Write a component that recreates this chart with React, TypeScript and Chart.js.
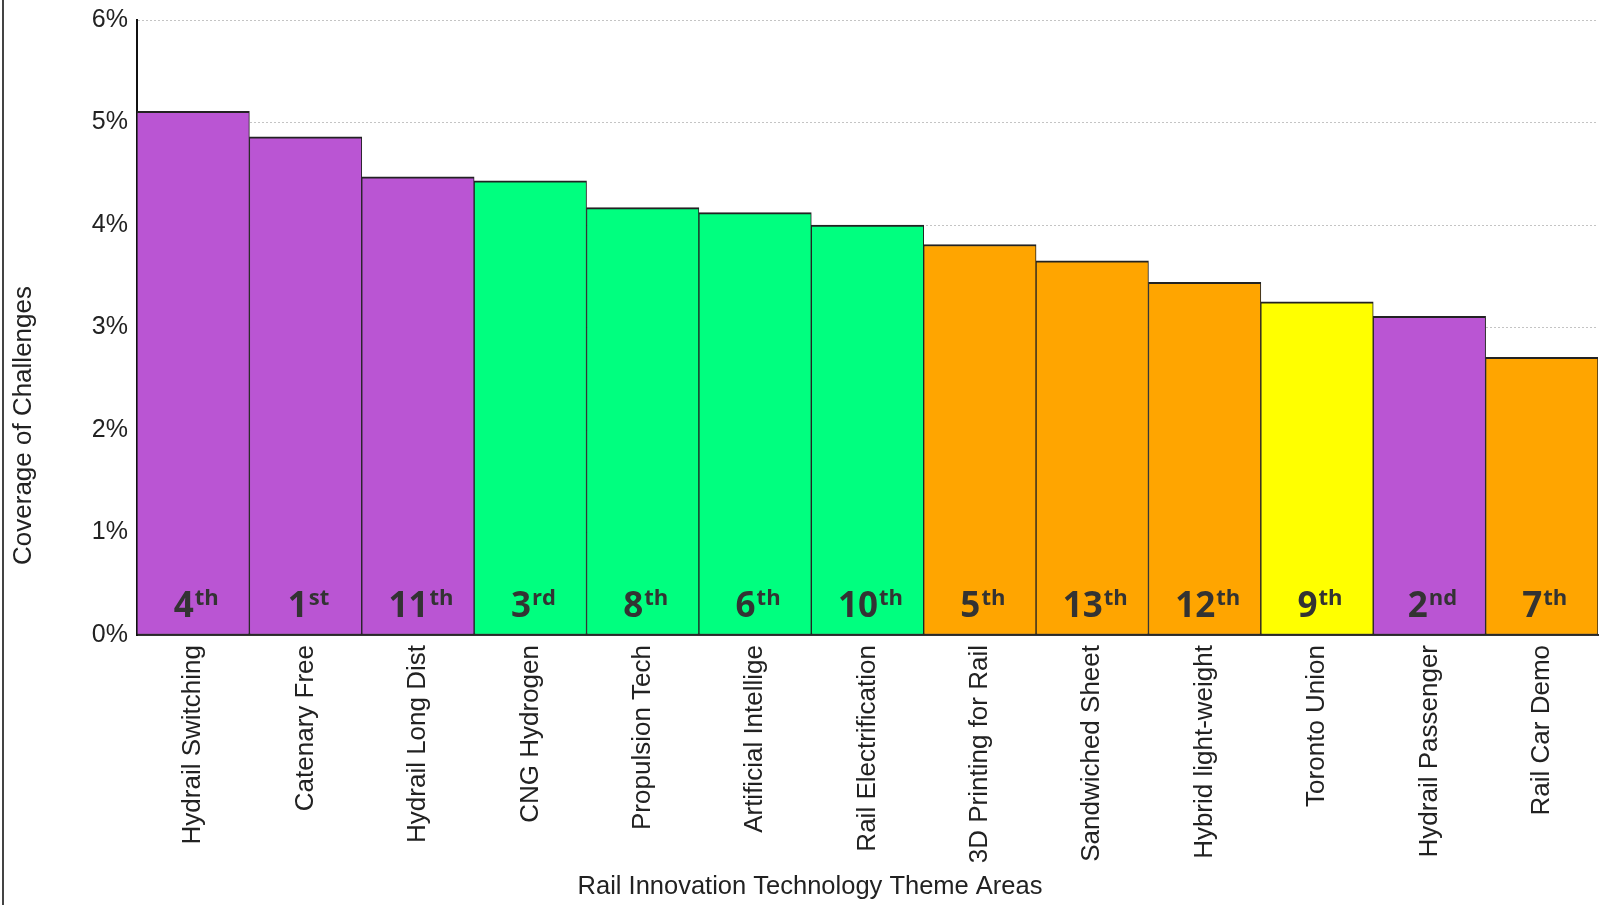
import React, { useEffect, useRef } from "react";
import { Chart, registerables } from "chart.js";

Chart.register(...registerables);

const categories = [
  "Hydrail Switching",
  "Catenary Free",
  "Hydrail Long Dist",
  "CNG Hydrogen",
  "Propulsion Tech",
  "Artificial Intellige",
  "Rail Electrification",
  "3D Printing for Rail",
  "Sandwiched Sheet",
  "Hybrid light-weight",
  "Toronto Union",
  "Hydrail Passenger",
  "Rail Car Demo",
];

const coverage = [5.11, 4.86, 4.47, 4.43, 4.17, 4.12, 4.0, 3.81, 3.65, 3.44, 3.25, 3.11, 2.71];

const rankNumbers = ["4", "1", "11", "3", "8", "6", "10", "5", "13", "12", "9", "2", "7"];
const rankSuffixes = ["th", "st", "th", "rd", "th", "th", "th", "th", "th", "th", "th", "nd", "th"];

const PURPLE = "#BA55D3";
const GREEN = "#00FF7F";
const ORANGE = "#FFA500";
const YELLOW = "#FFFF00";
const barColors = [
  PURPLE, PURPLE, PURPLE,
  GREEN, GREEN, GREEN, GREEN,
  ORANGE, ORANGE, ORANGE,
  YELLOW,
  PURPLE,
  ORANGE,
];

const yMin = 0;
const yMax = 6;
const yStep = 1;

const xTitle = "Rail Innovation Technology Theme Areas";
const yTitle = "Coverage of Challenges";

const TEXT = "#222";
const SANS = "'Liberation Sans', Arial, sans-serif";

const rankPlugin = {
  id: "rankLabels",
  afterDatasetsDraw(chart: any) {
    const ctx = chart.ctx;
    const meta = chart.getDatasetMeta(0);
    const base = chart.scales.y.getPixelForValue(0);
    ctx.save();
    ctx.fillStyle = "#333";
    ctx.textBaseline = "alphabetic";
    ctx.textAlign = "left";
    meta.data.forEach((el: any, i: number) => {
      const bigFont = "bold 35px 'Open Sans', sans-serif";
      const smallFont = "bold 22px 'Open Sans', sans-serif";
      ctx.font = bigFont;
      const nw = ctx.measureText(rankNumbers[i]).width;
      ctx.font = smallFont;
      const sw = ctx.measureText(rankSuffixes[i]).width;
      const start = el.x - (nw + sw + 1) / 2 + 3;
      ctx.font = bigFont;
      ctx.fillText(rankNumbers[i], start, base - 18);
      ctx.font = smallFont;
      ctx.fillText(rankSuffixes[i], start + nw + 1, base - 30);
    });
    ctx.restore();
  },
};

const titlePlugin = {
  id: "axisTitles",
  afterDraw(chart: any) {
    const ctx = chart.ctx;
    ctx.save();
    ctx.fillStyle = TEXT;
    ctx.font = `25.5px ${SANS}`;
    ctx.textAlign = "center";
    ctx.textBaseline = "alphabetic";
    ctx.fillText(xTitle, chart.width / 2 + 9, chart.height - 11);
    ctx.translate(24, chart.height / 2 - 27);
    ctx.rotate(-Math.PI / 2);
    ctx.font = `26px ${SANS}`;
    ctx.textBaseline = "middle";
    ctx.fillText(yTitle, 0, 0);
    ctx.restore();
  },
};

export default function App() {
  const ref = useRef<HTMLCanvasElement>(null);

  useEffect(() => {
    if (!ref.current) return;
    const chart = new Chart(ref.current, {
      type: "bar",
      data: {
        labels: categories,
        datasets: [
          {
            data: coverage,
            backgroundColor: barColors,
            borderColor: "#222",
            borderWidth: { top: 2, left: 1, right: 1, bottom: 1 },
            borderSkipped: false,
            barPercentage: 1,
            categoryPercentage: 1,
          },
        ],
      },
      options: {
        animation: false,
        responsive: false,
        layout: { padding: { left: 0, right: 4, top: 20, bottom: 0 } },
        plugins: {
          legend: { display: false },
          tooltip: { enabled: false },
        },
        scales: {
          x: {
            grid: { display: false, drawTicks: false },
            border: { display: true, color: "#333", width: 2 },
            ticks: {
              autoSkip: false,
              minRotation: 90,
              maxRotation: 90,
              padding: 10,
              color: TEXT,
              font: { family: SANS, size: 26 },
            },
            afterFit: (scale: any) => {
              scale.height = 270;
            },
          },
          y: {
            min: yMin,
            max: yMax,
            grid: { color: "#c4c4c4", lineWidth: 1, drawTicks: false },
            border: { display: true, color: "#111", width: 2, dash: [2, 2] },
            ticks: {
              stepSize: yStep,
              padding: 9,
              color: TEXT,
              font: { family: SANS, size: 25, lineHeight: 1 },
              callback: (v: any) => `${v}%`,
            },
            afterFit: (scale: any) => {
              scale.width = 137;
              scale.paddingTop = 0;
            },
          },
        },
      },
      plugins: [rankPlugin, titlePlugin],
    });
    return () => chart.destroy();
  }, []);

  return (
    <div style={{ position: "absolute", left: 0, top: 0, width: 1602, height: 905, background: "#fff" }}>
      <div style={{ position: "absolute", left: 2, top: 0, width: 2, height: 905, background: "#444" }} />
      <canvas ref={ref} width={1602} height={905} style={{ display: "block" }} />
    </div>
  );
}
